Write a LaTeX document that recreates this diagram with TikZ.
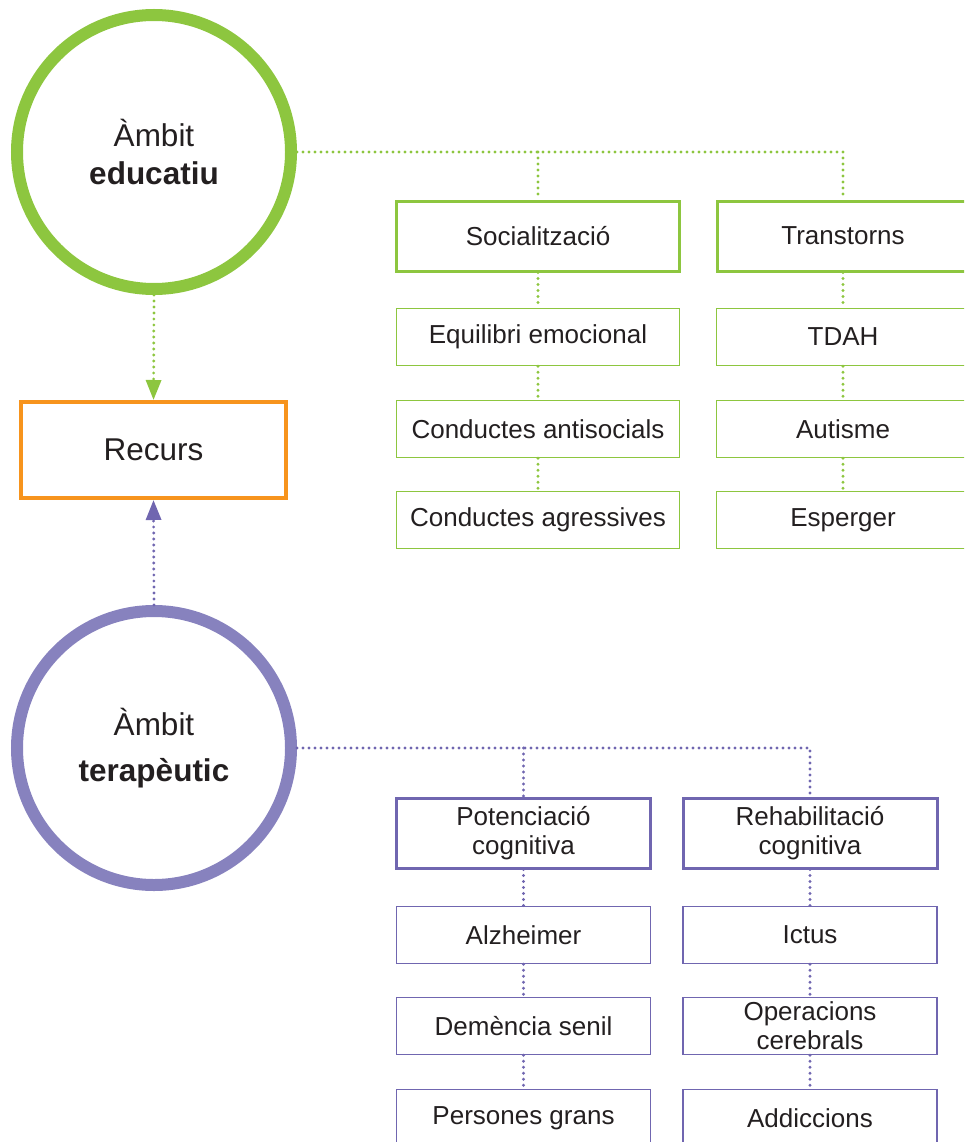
\documentclass[tikz,border=0pt]{standalone}
\usepackage{fontspec}
\setmainfont{Liberation Sans}
\usetikzlibrary{arrows.meta}
\definecolor{grn}{HTML}{8DC63F}
\definecolor{org}{HTML}{F7941D}
\definecolor{purc}{HTML}{8782BE}
\definecolor{purb}{HTML}{7066B0}
\definecolor{txt}{HTML}{231F20}
\begin{document}
\begin{tikzpicture}[x=1pt,y=-1pt,
  circ/.style={circle, draw, line width=12pt, minimum size=274pt, inner sep=0pt, align=center, text=txt},
  hbox/.style={draw, line width=3pt, minimum height=70pt, inner sep=0pt, align=center, text=txt, font=\fontsize{26}{29}\selectfont},
  sbox/.style={draw, line width=1.5pt, minimum height=57pt, inner sep=0pt, align=center, text=txt, font=\fontsize{26}{29}\selectfont},
  dots/.style={line width=3.2pt, dash pattern=on 0pt off 6pt, line cap=round},
  tip/.style={-{Triangle[length=20pt,width=15pt]}}
]
\useasboundingbox (0,0) rectangle (964,1142);
\clip (0,0) rectangle (964,1142);

% circles
\node[circ, draw=grn, font=\fontsize{31.5}{38}\selectfont] (edu) at (154,152) {Àmbit\\\textbf{educatiu}};
\node[circ, draw=purc, font=\fontsize{31.5}{46}\selectfont] (ter) at (154,748) {Àmbit\\\textbf{terapèutic}};

% recurs
\node[draw=org, line width=4pt, minimum width=265pt, minimum height=96pt, inner sep=0pt, text=txt, font=\fontsize{31.5}{38}\selectfont] (rec) at (153.5,450) {Recurs};

% green column 1
\node[hbox, draw=grn, minimum width=283pt] (soc) at (538,236) {Socialització};
\node[sbox, draw=grn, minimum width=283pt] (equ) at (538,337) {Equilibri emocional};
\node[sbox, draw=grn, minimum width=283pt] (ant) at (538,429) {Conductes antisocials};
\node[sbox, draw=grn, minimum width=283pt] (agr) at (538,520) {Conductes agressives};
% green column 2
\node[hbox, draw=grn, minimum width=251pt] (tra) at (843,236) {Transtorns};
\node[sbox, draw=grn, minimum width=253pt] (tda) at (843,337) {TDAH};
\node[sbox, draw=grn, minimum width=253pt] (aut) at (843,429) {Autisme};
\node[sbox, draw=grn, minimum width=253pt] (esp) at (843,520) {Esperger};

% purple column 1
\node[hbox, draw=purb, minimum width=254pt] (pot) at (523.5,833) {Potenciació\\cognitiva};
\node[sbox, draw=purb, minimum width=254pt] (alz) at (523.5,935) {Alzheimer};
\node[sbox, draw=purb, minimum width=254pt] (dem) at (523.5,1026) {Demència senil};
\node[sbox, draw=purb, minimum width=254pt] (per) at (523.5,1118) {Persones grans};
% purple column 2
\node[hbox, draw=purb, minimum width=254pt] (reh) at (810,833) {Rehabilitació\\cognitiva};
\node[sbox, draw=purb, minimum width=254pt] (ict) at (810,935) {Ictus};
\node[sbox, draw=purb, minimum width=254pt] (ope) at (810,1026) {Operacions\\cerebrals};
\node[sbox, draw=purb, minimum width=254pt] (add) at (810,1118) {Addiccions};

% green connectors
\draw[dots, grn] (edu.east) -| (tra.north);
\draw[dots, grn] (edu.east -| soc.north) -- (soc.north);
\draw[dots, grn] (soc.south) -- (equ.north);
\draw[dots, grn] (equ.south) -- (ant.north);
\draw[dots, grn] (ant.south) -- (agr.north);
\draw[dots, grn] (tra.south) -- (tda.north);
\draw[dots, grn] (tda.south) -- (aut.north);
\draw[dots, grn] (aut.south) -- (esp.north);
\draw[dots, grn, tip] (edu.south) -- (rec.north);

% purple connectors
\draw[dots, purb] (ter.east) -| (reh.north);
\draw[dots, purb] (ter.east -| pot.north) -- (pot.north);
\draw[dots, purb] (pot.south) -- (alz.north);
\draw[dots, purb] (alz.south) -- (dem.north);
\draw[dots, purb] (dem.south) -- (per.north);
\draw[dots, purb] (reh.south) -- (ict.north);
\draw[dots, purb] (ict.south) -- (ope.north);
\draw[dots, purb] (ope.south) -- (add.north);
\draw[dots, purb, tip] (ter.north) -- (rec.south);
\end{tikzpicture}
\end{document}
